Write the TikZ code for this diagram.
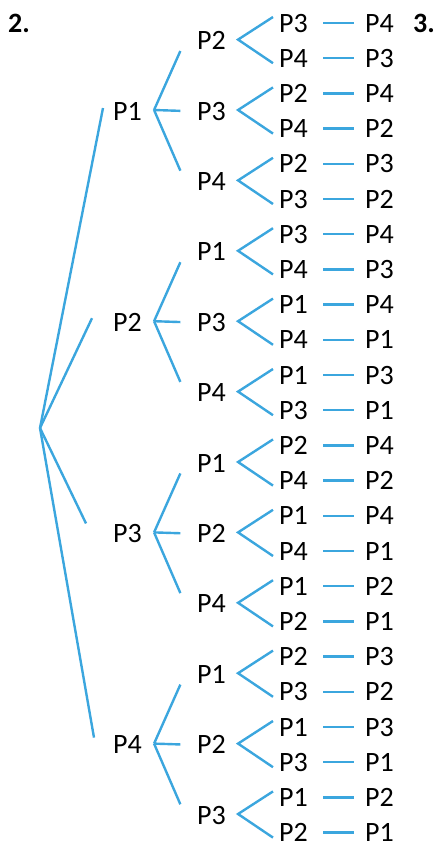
\documentclass[tikz,border=0pt]{standalone}
\usepackage{fontspec}
\setmainfont{Carlito}
\usetikzlibrary{calc}
\definecolor{lb}{RGB}{59,166,222}
\begin{document}
\begin{tikzpicture}[x=1pt,y=-1pt,
  lbl/.style={font=\fontsize{28}{30}\selectfont, inner sep=0pt, text height=18pt, text depth=0pt, anchor=west},
  num/.style={lbl, font=\bfseries\fontsize{28}{30}\selectfont},
  ln/.style={draw=lb, line width=2.4pt, line join=miter}]
\useasboundingbox (0,0) rectangle (437,844);
\node[num] (n2) at (8,23) {2.};
\node[num] (n3) at (413,23) {3.};
% level 1
\foreach \a [count=\i from 0] in {1,2,3,4}
  \node[lbl] (a\i) at (113,{23+35.2*(6*\i+2.5)}) {P\a};
% level 2
\foreach \b [count=\m from 0] in {2,3,4,1,3,4,1,2,4,1,2,3}
  \node[lbl] (b\m) at (197,{23+35.2*(2*\m+0.5)}) {P\b};
% leaves
\foreach \c/\d [count=\n from 0] in {3/4,4/3,2/4,4/2,2/3,3/2,3/4,4/3,1/4,4/1,1/3,3/1,2/4,4/2,1/4,4/1,1/2,2/1,2/3,3/2,1/3,3/1,1/2,2/1}{
  \node[lbl] (c\n) at (279,{23+35.2*\n}) {P\c};
  \node[lbl] (d\n) at (365,{23+35.2*\n}) {P\d};
  \draw[ln] ([xshift=15pt]c\n.east) -- ([xshift=-11pt]d\n.west);
}
% level 2 forks
\foreach \m in {0,...,11}{
  \pgfmathtruncatemacro\p{2*\m}
  \pgfmathtruncatemacro\q{2*\m+1}
  \coordinate (w\m) at ([shift={(12,-1)}]b\m.east);
  \draw[ln] ([shift={(-6,-6)}]c\p.west) -- (w\m) -- ([shift={(-6,5)}]c\q.west);
}
% level 1 forks
\foreach \i in {0,...,3}{
  \coordinate (v\i) at ([shift={(12,-1)}]a\i.east);
  \foreach \k in {0,1,2}{
    \pgfmathtruncatemacro\m{3*\i+\k}
    \draw[ln] (v\i) -- ($(v\i)!0.85!([xshift=-12pt]b\m.west)$);
  }
}
% root
\coordinate (r) at (40,428);
\foreach \i/\dx/\dy in {0/-10/-3,1/-21/-4,2/-27/-10,3/-19/-7}
  \draw[ln] (r) -- ([shift={(\dx,\dy)}]a\i.west);
\end{tikzpicture}
\end{document}
